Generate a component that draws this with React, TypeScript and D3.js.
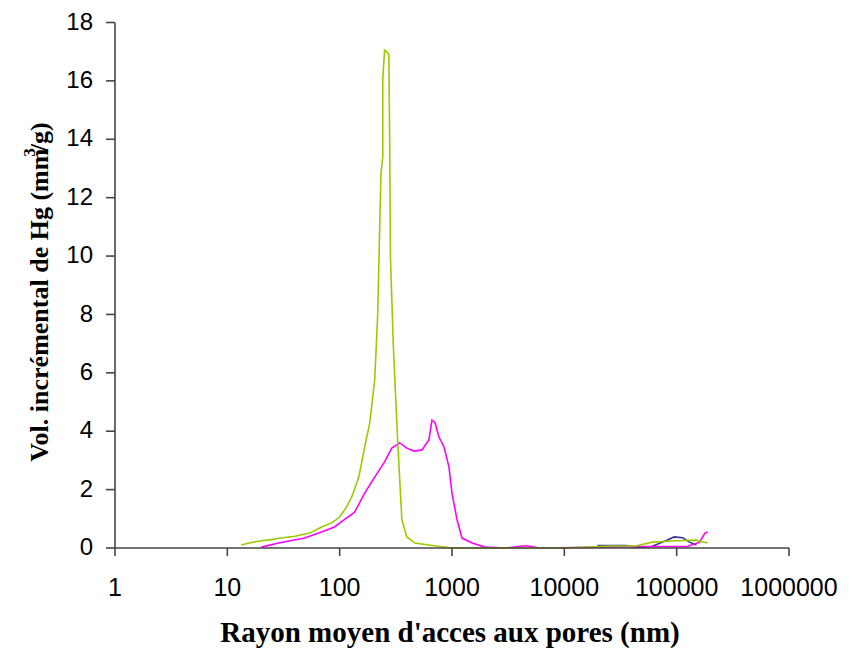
import React from "react";
import * as d3 from "d3";

const xTicks = [1, 10, 100, 1000, 10000, 100000, 1000000];
const yTicks = [0, 2, 4, 6, 8, 10, 12, 14, 16, 18];

const greenR = [13.3, 16, 20, 23, 30, 40, 54, 69, 85, 100, 115, 128, 148, 167, 185, 205, 218, 233, 242, 242, 251, 262, 274, 279, 283, 300, 310, 330, 358, 396, 468, 623, 1000, 10000, 25800, 43000, 61000, 100000, 148000, 189000];
const greenV = [0.1, 0.18, 0.25, 0.27, 0.34, 0.4, 0.51, 0.72, 0.86, 1.06, 1.4, 1.75, 2.43, 3.46, 4.28, 5.75, 8, 12.8, 13.4, 16.06, 17.05, 17.0, 16.9, 13.8, 10, 7, 5.75, 3.5, 0.96, 0.38, 0.17, 0.1, 0, 0, 0.07, 0.07, 0.2, 0.25, 0.27, 0.17];

const magentaR = [20.1, 28.5, 48.7, 69, 90, 104, 136, 167, 205, 251, 291, 343, 396, 458, 540, 623, 663, 705, 765, 849, 940, 1000, 1110, 1228, 1510, 1970, 3000, 4220, 4800, 6000, 52800, 125000, 160000, 178000, 189000];
const magentaV = [0.03, 0.17, 0.34, 0.55, 0.72, 0.9, 1.23, 1.88, 2.43, 2.95, 3.42, 3.6, 3.42, 3.32, 3.36, 3.7, 4.38, 4.3, 3.8, 3.46, 2.77, 1.88, 0.96, 0.34, 0.17, 0.03, 0, 0.07, 0.07, 0, 0.05, 0.05, 0.2, 0.5, 0.55];

const blueR = [19700, 35000, 45000, 60000, 80000, 95000, 113000, 130000, 150000];
const blueV = [0.08, 0.08, 0.02, 0.05, 0.25, 0.38, 0.35, 0.2, 0.1];

const xLabel = "Rayon moyen d'acces aux pores (nm)";

export default function App() {
  const x = d3.scaleLog().domain([1, 1e6]).range([115, 789]);
  const y = d3.scaleLinear().domain([0, 18]).range([548, 22.5]);
  const line = d3
    .line<[number, number]>()
    .x((d) => x(d[0]))
    .y((d) => y(d[1]));
  const zip = (a: number[], b: number[]) => a.map((v, i) => [v, b[i]] as [number, number]);
  const axisColor = "#444";
  const tickFont = "'Liberation Sans', Arial, sans-serif";
  const titleFont = "'Liberation Serif', 'Times New Roman', serif";
  return (
    <svg
      width={850}
      height={650}
      style={{ position: "absolute", left: 0, top: 0, background: "#fff" }}
    >
      <rect x={0} y={0} width={850} height={650} fill="#fff" />
      <path d={line(zip(blueR, blueV)) || ""} fill="none" stroke="#333399" strokeWidth={1.6} />
      <path d={line(zip(magentaR, magentaV)) || ""} fill="none" stroke="#ff00ff" strokeWidth={1.6} />
      <path d={line(zip(greenR, greenV)) || ""} fill="none" stroke="#99cc00" strokeWidth={1.6} />
      {/* axes */}
      <line x1={x(1)} x2={x(1e6)} y1={y(0)} y2={y(0)} stroke={axisColor} strokeWidth={1.6} />
      <line x1={x(1)} x2={x(1)} y1={y(0)} y2={y(18)} stroke={axisColor} strokeWidth={1.6} />
      {yTicks.map((t) => (
        <g key={"y" + t}>
          <line x1={x(1) - 9} x2={x(1)} y1={y(t)} y2={y(t)} stroke={axisColor} strokeWidth={1.6} />
          <text
            x={93}
            y={y(t)}
            dy="0.3em"
            textAnchor="end"
            fontFamily={tickFont}
            fontSize={24}
            fill="#000"
          >
            {t}
          </text>
        </g>
      ))}
      {xTicks.map((t) => (
        <g key={"x" + t}>
          <line x1={x(t)} x2={x(t)} y1={y(0)} y2={y(0) + 8} stroke={axisColor} strokeWidth={1.6} />
          <text
            x={x(t)}
            y={596}
            textAnchor="middle"
            fontFamily={tickFont}
            fontSize={25}
            fill="#000"
          >
            {t}
          </text>
        </g>
      ))}
      <text
        x={450}
        y={642}
        textAnchor="middle"
        fontFamily={titleFont}
        fontWeight="bold"
        fontSize={29}
        fill="#000"
      >
        {xLabel}
      </text>
      <text
        transform="translate(48,292) rotate(-90)"
        textAnchor="middle"
        fontFamily={titleFont}
        fontWeight="bold"
        fontSize={26}
        fill="#000"
      >
        Vol. incrémental de Hg (mm
        <tspan dy={-13} dx={-8} fontSize={17}>3</tspan>
        <tspan dy={13} dx={-3}>/g)</tspan>
      </text>
    </svg>
  );
}
